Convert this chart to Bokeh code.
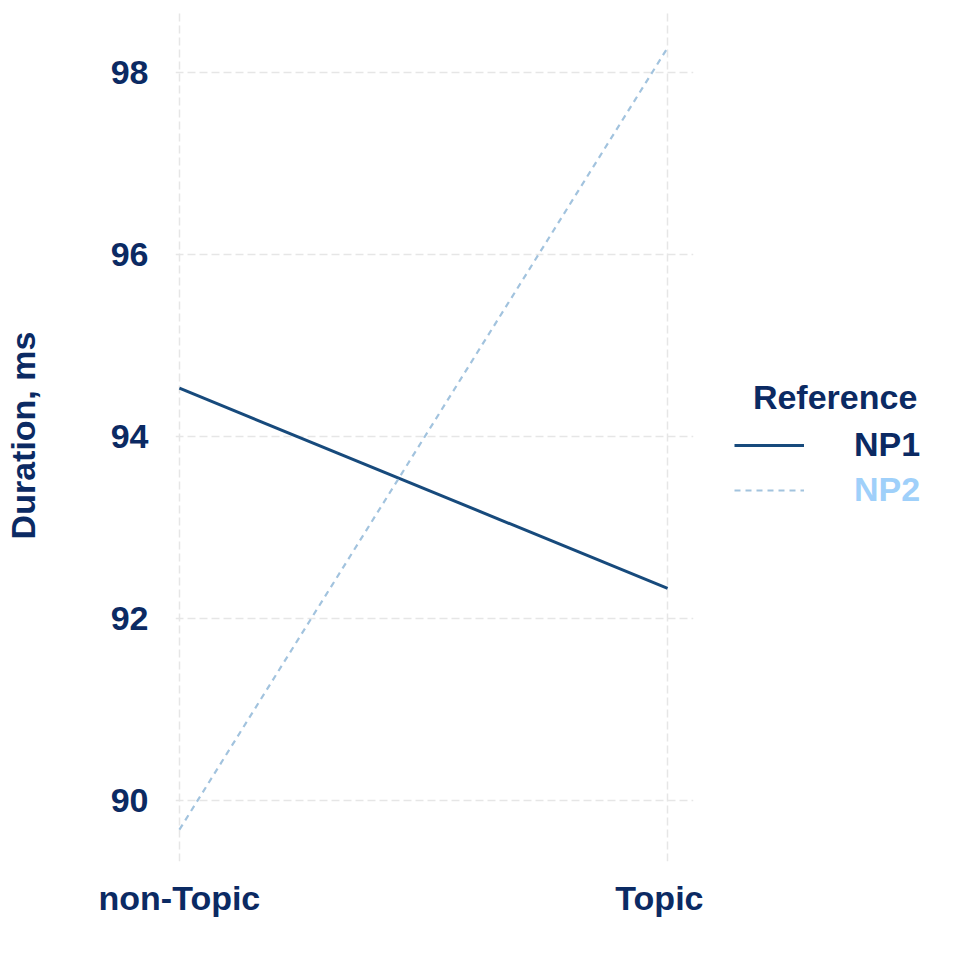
from bokeh.plotting import figure
from bokeh.layouts import row
from bokeh.models import Range1d, FixedTicker, Legend, LegendItem
from bokeh.embed import file_html
from bokeh.resources import INLINE

categories = ["non-Topic", "Topic"]
np1_values = [94.53, 92.33]
np2_values = [89.68, 98.27]
y_ticks = [90, 92, 94, 96, 98]

NAVY = "#0b2a63"
NP1_COLOR = "#174a7c"
NP2_COLOR = "#a2c3de"
NP2_TEXT = "#9fd0fa"
FONT = "Liberation Sans"

x = list(range(len(categories)))

p = figure(frame_width=518, frame_height=852, output_backend="svg", toolbar_location=None,
           x_range=Range1d(-0.008, 1.053), y_range=Range1d(89.33, 98.69),
           min_border_left=168, min_border_right=10, min_border_top=9, min_border_bottom=83)
p.outline_line_color = None
p.background_fill_color = "white"
p.border_fill_color = "white"

r1 = p.line(x, np1_values, line_color=NP1_COLOR, line_width=3)
r2 = p.line(x, np2_values, line_color=NP2_COLOR, line_width=2.2, line_dash="6 5")

p.xaxis.ticker = FixedTicker(ticks=x)
p.xaxis.major_label_overrides = {i: c for i, c in zip(x, categories)}
p.yaxis.ticker = FixedTicker(ticks=y_ticks)
p.yaxis.axis_label = "Duration, ms"

for ax in (p.xaxis[0], p.yaxis[0]):
    ax.axis_line_color = None
    ax.major_tick_line_color = None
    ax.minor_tick_line_color = None
    ax.major_label_text_font = FONT
    ax.major_label_text_font_style = "bold"
    ax.major_label_text_font_size = "34px"
    ax.major_label_text_color = NAVY
    ax.axis_label_text_font = FONT
    ax.axis_label_text_font_style = "bold"
    ax.axis_label_text_font_size = "34px"
    ax.axis_label_text_color = NAVY

p.yaxis.major_label_standoff = 21
p.yaxis.axis_label_standoff = 66
p.xaxis.major_label_standoff = 11

for g in (p.xgrid[0], p.ygrid[0]):
    g.grid_line_color = "#e6e6e6"
    g.grid_line_width = 1.5
    g.grid_line_dash = "8 4"
p.xgrid.ticker = FixedTicker(ticks=x)
p.ygrid.ticker = FixedTicker(ticks=y_ticks)

# legend panel (separate figure to the right); its ranges keep the series off-screen
LEG_W = 953 - (168 + 518 + 10)
LEG_H = 9 + 852 + 83
q = figure(width=LEG_W, height=LEG_H, output_backend="svg", toolbar_location=None,
           x_range=Range1d(0, 1), y_range=Range1d(0, 1),
           x_axis_location=None, y_axis_location=None,
           min_border_left=0, min_border_right=0, min_border_top=0, min_border_bottom=0)
q.outline_line_color = None
q.xgrid.visible = False
q.ygrid.visible = False
q1 = q.line(x, np1_values, line_color=NP1_COLOR, line_width=3)
q2 = q.line(x, np2_values, line_color=NP2_COLOR, line_width=2.2, line_dash="6 5")

def style_legend(lg, text_color):
    lg.glyph_width = 70
    lg.glyph_height = 20
    lg.label_standoff = 50
    lg.label_text_font = FONT
    lg.label_text_font_style = "bold"
    lg.label_text_font_size = "34px"
    lg.label_text_color = text_color
    lg.background_fill_color = None
    lg.border_line_color = None
    lg.padding = 0
    lg.margin = 0
    lg.spacing = 0

leg1 = Legend(items=[LegendItem(label="NP1", renderers=[q1])], title="\u00a0\u00a0Reference",
              location=(31, 397))
style_legend(leg1, NAVY)
leg1.title_text_font = FONT
leg1.title_text_font_style = "bold"
leg1.title_text_font_size = "34px"
leg1.title_text_color = NAVY
leg1.title_standoff = 8

leg2 = Legend(items=[LegendItem(label="NP2", renderers=[q2])], location=(31, 352))
style_legend(leg2, NP2_TEXT)

q.add_layout(leg1)
q.add_layout(leg2)

layout = row(p, q)
open("out.html", "w").write(file_html(layout, INLINE))
